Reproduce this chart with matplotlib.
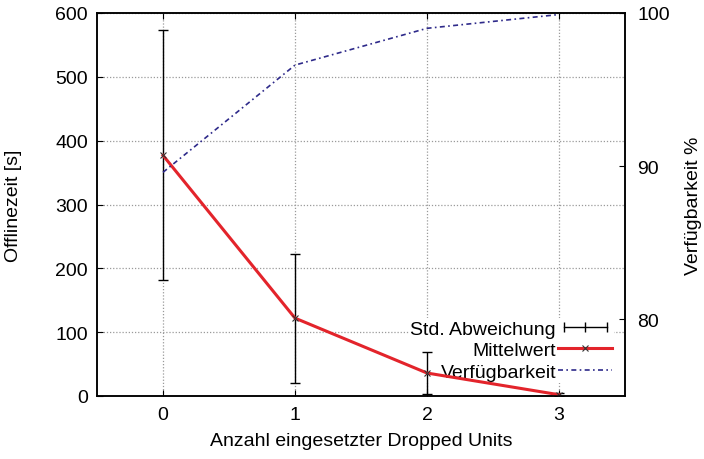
import numpy as np
import matplotlib
matplotlib.use("Agg")
import matplotlib.pyplot as plt
from matplotlib.lines import Line2D
from matplotlib.legend_handler import HandlerLine2D

plt.rcParams['font.family'] = ['Liberation Sans', 'DejaVu Sans']
plt.rcParams['font.size'] = 14

# data
units = [0, 1, 2, 3]
offline_mean = [377, 122, 36, 2]
offline_std = [196, 101, 33, 2]
availability = [89.6, 96.6, 99.0, 99.9]

fig = plt.figure(figsize=(7.04, 4.60), dpi=100)
ax = fig.add_axes([97/704, 1-397/460, 528/704, 383/460])
ax2 = ax.twinx()

grid_col = '#9a9a9a'
ax.grid(True, color=grid_col, linestyle=(0, (1, 1.5)), linewidth=0.9, zorder=0)
ax.set_axisbelow(True)

ax.errorbar(units, offline_mean, yerr=offline_std, fmt='none', ecolor='black',
            elinewidth=1.0, capsize=3.5, capthick=1.0, zorder=4)
ax.plot(units, offline_mean, color='#e3242b', linewidth=2.2, marker='x',
        markersize=5, markeredgecolor='#333333', markeredgewidth=0.8, zorder=5)

ax2.plot(units, availability, color='#2e2a8a', linewidth=1.2,
         linestyle=(0, (3, 2, 1, 2)), zorder=3)

ax.set_xlim(-0.5, 3.5)
ax.set_ylim(0, 600)
ax2.set_ylim(75, 100)
ax.set_xticks(units)
ax.set_yticks(range(0, 601, 100))
ax2.set_yticks([80, 90, 100])

ax.tick_params(axis='x', direction='in', length=4.5, width=0.8, top=True, pad=7)
ax.tick_params(axis='y', direction='in', length=4.5, width=0.8, right=False, pad=6.5)
ax2.tick_params(axis='y', direction='in', length=4.5, width=0.8, pad=9)

for a in (ax, ax2):
    for s in a.spines.values():
        s.set_linewidth(1.1)

ax.set_xlabel('Anzahl eingesetzter Dropped Units')
ax.set_ylabel('Offlinezeit [s]')
ax2.set_ylabel('Verfügbarkeit %')
ax.xaxis.set_label_coords(0.5, -0.095)
ax.yaxis.set_label_coords(-0.142, 0.5)
ax2.yaxis.set_label_coords(1.113, 0.5)

# legend, gnuplot style: text right aligned, sample on the right
std_h = Line2D([], [], color='black', linewidth=1.0, marker='|', markersize=7,
               markeredgewidth=1.0)
mean_h = Line2D([], [], color='#e3242b', linewidth=2.2, marker='x', markersize=5,
                markeredgecolor='#333333', markeredgewidth=0.8)
avail_h = Line2D([], [], color='#2e2a8a', linewidth=1.2, linestyle=(0, (3, 2, 1, 2)))
leg = ax.legend([std_h, mean_h, avail_h], ['Std. Abweichung', 'Mittelwert', 'Verfügbarkeit'],
                loc='lower right', bbox_to_anchor=(0.98, 0.035), markerfirst=False,
                frameon=True, facecolor='white', edgecolor='none', framealpha=1,
                fancybox=False, borderpad=0.1, labelspacing=0.2, handlelength=2.8,
                handletextpad=0.1, borderaxespad=0,
                handler_map={std_h: HandlerLine2D(numpoints=3)})
leg.set_zorder(2.5)

fig.savefig('out.png', dpi=100)
